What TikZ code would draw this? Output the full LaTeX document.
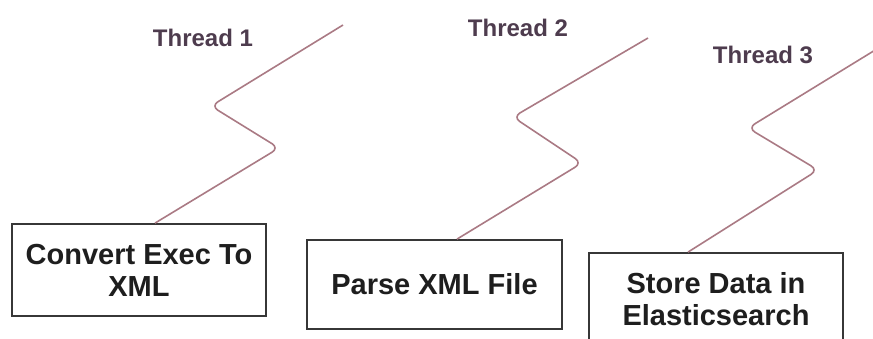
\documentclass[tikz,border=0pt]{standalone}
\usepackage{fontspec}
\setmainfont{Liberation Sans}
\usetikzlibrary{calc}

\definecolor{threadline}{RGB}{170,122,132}
\definecolor{threadtext}{RGB}{78,60,78}
\definecolor{boxline}{RGB}{55,55,55}
\definecolor{boxtext}{RGB}{30,30,30}

\tikzset{
  taskbox/.style={draw=boxline, line width=1.8pt, fill=white, inner sep=0pt,
    text=boxtext, font=\fontsize{29}{32}\selectfont\bfseries, align=center},
  threadlabel/.style={text=threadtext, font=\fontsize{24}{28}\selectfont\bfseries, inner sep=0pt},
  thread/.style={draw=threadline, line width=1.6pt, rounded corners=8pt}
}

\begin{document}
\begin{tikzpicture}[x=1pt, y=-1pt]
  \useasboundingbox (0,0) rectangle (873,338);
  \clip (0,0) rectangle (873,338);

  % task boxes
  \node[taskbox, minimum width=254pt, minimum height=92pt] (b1) at (139,270)
    {Convert Exec To\\XML};
  \node[taskbox, minimum width=255pt, minimum height=89pt] (b2) at (434.5,284.5)
    {Parse XML File};
  \node[taskbox, minimum width=254pt, minimum height=92pt] (b3) at (716,299)
    {Store Data in\\Elasticsearch};

  % zigzag thread lines
  \coordinate (t1a) at (279,148);
  \coordinate (t1b) at (211,106);
  \coordinate (t1e) at (343,25);
  \coordinate (t2a) at (582,163);
  \coordinate (t2b) at (513,117);
  \coordinate (t2e) at (648,38);
  \coordinate (t3a) at (818,170);
  \coordinate (t3b) at (748,128);
  \coordinate (t3e) at (885,44);

  \draw[thread] ([xshift=16pt]b1.north) -- (t1a) -- (t1b) -- (t1e);
  \draw[thread] ([xshift=22.5pt]b2.north) -- (t2a) -- (t2b) -- (t2e);
  \draw[thread] ([xshift=-28pt]b3.north) -- (t3a) -- (t3b) -- (t3e);

  % thread labels
  \node[threadlabel] (l1) at (203,38) {Thread 1};
  \node[threadlabel] (l2) at (518,28) {Thread 2};
  \node[threadlabel] (l3) at (763,55) {Thread 3};
\end{tikzpicture}
\end{document}
